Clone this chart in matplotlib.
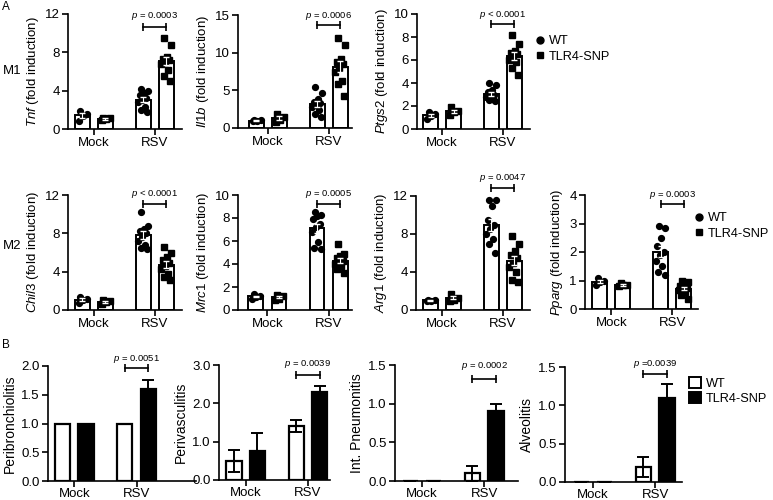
import matplotlib.pyplot as plt
import numpy as np
from matplotlib.lines import Line2D
from matplotlib.patches import Patch

plt.rcParams['font.family'] = ['Liberation Sans', 'DejaVu Sans']
plt.rcParams['mathtext.fontset'] = 'custom'
plt.rcParams['mathtext.rm'] = 'Liberation Sans'
plt.rcParams['mathtext.it'] = 'Liberation Sans:italic'

W, H = 773, 500
groups = ['Mock', 'RSV']

# ---- panel A: fold induction, one value per mouse ----
tnf_mock_wt = [1.9, 1.6, 1.4, 0.8]
tnf_mock_snp = [1.2, 1.1, 1.0, 0.9]
tnf_rsv_wt = [4.2, 4.0, 3.8, 3.5, 3.2, 3.0, 2.8, 2.3, 2.0, 1.8]
tnf_rsv_snp = [9.5, 8.8, 7.5, 7.3, 7.2, 7.0, 6.8, 6.2, 5.5, 5.0]

il1b_mock_wt = [1.1, 1.0, 0.9, 0.9]
il1b_mock_snp = [1.9, 1.5, 1.1, 0.8]
il1b_rsv_wt = [5.5, 4.7, 3.8, 3.5, 3.3, 3.1, 2.8, 2.4, 1.8, 1.5]
il1b_rsv_snp = [12.0, 11.0, 9.2, 8.8, 8.5, 8.0, 7.5, 6.2, 5.8, 4.2]

ptgs2_mock_wt = [1.5, 1.3, 1.1, 0.9]
ptgs2_mock_snp = [1.9, 1.6, 1.5, 1.2]
ptgs2_rsv_wt = [4.0, 3.8, 3.4, 3.2, 3.0, 2.9, 2.8, 2.6, 2.5, 2.4]
ptgs2_rsv_snp = [8.2, 7.4, 6.8, 6.6, 6.5, 6.3, 6.0, 5.8, 5.3, 4.7]

chil3_mock_wt = [1.4, 1.2, 1.0, 0.7]
chil3_mock_snp = [1.0, 0.9, 0.8, 0.6]
chil3_rsv_wt = [10.2, 8.8, 8.5, 8.2, 8.0, 7.6, 7.2, 6.8, 6.5, 6.4]
chil3_rsv_snp = [6.6, 6.0, 5.5, 5.2, 4.9, 4.6, 4.3, 3.8, 3.4, 3.1]

mrc1_mock_wt = [1.4, 1.2, 1.1, 1.0]
mrc1_mock_snp = [1.3, 1.2, 1.0, 0.9]
mrc1_rsv_wt = [8.5, 8.3, 8.2, 7.9, 7.5, 7.2, 6.8, 5.9, 5.4, 5.3]
mrc1_rsv_snp = [5.7, 4.9, 4.7, 4.5, 4.3, 4.2, 4.0, 3.8, 3.6, 3.2]

arg1_mock_wt = [1.1, 1.05, 1.0, 0.9]
arg1_mock_snp = [1.7, 1.3, 1.1, 1.0]
arg1_rsv_wt = [11.6, 11.6, 11.0, 9.5, 9.0, 8.5, 8.0, 7.5, 7.0, 6.0]
arg1_rsv_snp = [7.8, 7.0, 6.2, 5.8, 5.5, 5.0, 4.5, 4.0, 3.2, 3.0]

pparg_mock_wt = [1.1, 0.97, 0.93, 0.85]
pparg_mock_snp = [0.9, 0.85, 0.83, 0.8]
pparg_rsv_wt = [2.9, 2.85, 2.5, 2.2, 2.0, 1.9, 1.7, 1.5, 1.3, 1.2]
pparg_rsv_snp = [1.0, 0.95, 0.85, 0.8, 0.75, 0.7, 0.65, 0.6, 0.5, 0.35]

# ---- panel B: histology scores, mean and error ----
peri_b_wt = [1.0, 1.0]
peri_b_snp = [1.0, 1.6]
peri_b_wt_err = [0.0, 0.0]
peri_b_snp_err = [0.0, 0.16]

peri_v_wt = [0.5, 1.4]
peri_v_snp = [0.75, 2.3]
peri_v_wt_err = [0.28, 0.16]
peri_v_snp_err = [0.48, 0.16]

int_p_wt = [0.0, 0.1]
int_p_snp = [0.0, 0.9]
int_p_wt_err = [0.0, 0.1]
int_p_snp_err = [0.0, 0.1]

alv_wt = [0.0, 0.2]
alv_snp = [0.0, 1.1]
alv_wt_err = [0.0, 0.13]
alv_snp_err = [0.0, 0.18]

GAP = 2.65     # distance between Mock and RSV groups (bar spacing = 1)
BW = 0.65


def px_axes(x0, x1, ytop, ybot):
    return fig.add_axes([x0 / W, 1 - ybot / H, (x1 - x0) / W, (ybot - ytop) / H])


def style(ax, xlim, ylim, yticks, yfmt, pad=2):
    for s in ['top', 'right']:
        ax.spines[s].set_visible(False)
    for s in ['left', 'bottom']:
        ax.spines[s].set_linewidth(1.2)
    ax.set_xlim(xlim)
    ax.set_ylim(ylim)
    ax.set_yticks(yticks)
    ax.set_yticklabels([yfmt.format(t) for t in yticks])
    ax.set_xticks([0.5, GAP + 0.5])
    ax.set_xticklabels(groups)
    ax.tick_params(direction='out', length=4, width=1.2, labelsize=9.5, pad=2)
    ax.tick_params(axis='x', pad=pad)


def bracket(ax, yb, yt, ptxt):
    tr = ax.get_xaxis_transform()
    ax.plot([GAP, GAP + 1], [yb, yb], color='black', lw=1.2, transform=tr,
            marker='|', ms=6, mew=1.2, clip_on=False)
    ax.text(GAP + 0.5, yt, ptxt, transform=tr, ha='center', va='baseline',
            fontsize=6.8)


def jitter(n, spread=0.22):
    k = np.arange(n)
    return spread * (((k * 0.618 + 0.3) % 1.0) - 0.5) * 2


fig = plt.figure(figsize=(W / 100, H / 100), dpi=100)

panels_a = [
    ('Tnf', [tnf_mock_wt, tnf_mock_snp, tnf_rsv_wt, tnf_rsv_snp],
     (68, 182, 14, 129), (-0.63, 4.33), [0, 4, 8, 12], r'$\it{p}$ = 0.0003', 0.887, 0.963),
    ('Il1b', [il1b_mock_wt, il1b_mock_snp, il1b_rsv_wt, il1b_rsv_snp],
     (238, 352, 15, 128), (-0.80, 4.15), [0, 5, 10, 15], r'$\it{p}$ = 0.0006', 0.91, 0.971),
    ('Ptgs2', [ptgs2_mock_wt, ptgs2_mock_snp, ptgs2_rsv_wt, ptgs2_rsv_snp],
     (417, 530, 14, 129), (-0.59, 4.33), [0, 2, 4, 6, 8, 10], r'$\it{p}$ < 0.0001', 0.915, 0.97),
    ('Chil3', [chil3_mock_wt, chil3_mock_snp, chil3_rsv_wt, chil3_rsv_snp],
     (68, 182, 195, 310), (-0.63, 4.33), [0, 4, 8, 12], r'$\it{p}$ < 0.0001', 0.92, 0.99),
    ('Mrc1', [mrc1_mock_wt, mrc1_mock_snp, mrc1_rsv_wt, mrc1_rsv_snp],
     (238, 352, 195, 310), (-0.78, 4.17), [0, 2, 4, 6, 8, 10], r'$\it{p}$ = 0.0005', 0.925, 0.99),
    ('Arg1', [arg1_mock_wt, arg1_mock_snp, arg1_rsv_wt, arg1_rsv_snp],
     (416, 530, 196, 310), (-0.63, 4.33), [0, 4, 8, 12], r'$\it{p}$ = 0.0047', 1.07, 1.14),
    ('Pparg', [pparg_mock_wt, pparg_mock_snp, pparg_rsv_wt, pparg_rsv_snp],
     (585, 698, 195, 309), (-0.65, 4.26), [0, 1, 2, 3, 4], r'$\it{p}$ = 0.0003', 0.925, 0.985),
]

xpos = [0, 1, GAP, GAP + 1]
for gene, sets, rect, xlim, yt, ptxt, yb, ytx in panels_a:
    ax = px_axes(*rect)
    for i, (x, vals) in enumerate(zip(xpos, sets)):
        v = np.array(vals)
        m = v.mean()
        sem = v.std(ddof=1) / np.sqrt(len(v))
        ax.bar(x, m, width=BW, color='white', edgecolor='black', lw=1.4, zorder=1)
        marker = 'o' if i % 2 == 0 else 's'
        ax.plot(x + jitter(len(v)), v, ls='', marker=marker, color='black',
                ms=4.2 if marker == 'o' else 3.8, zorder=3, clip_on=False)
        ax.errorbar(x, m, yerr=sem, color='white', lw=0.8, capsize=2.5, zorder=4)
    style(ax, xlim, (0, yt[-1]), yt, '{:d}')
    ax.set_ylabel(r'$\it{' + gene + '}$ (fold induction)', fontsize=9.5, labelpad=3)
    bracket(ax, yb, ytx, ptxt)

panels_b = [
    ('Peribronchiolitis', peri_b_wt, peri_b_snp, peri_b_wt_err, peri_b_snp_err,
     (48, 196, 366, 481), (-0.62, 5.68), [0, 0.5, 1.0, 1.5, 2.0], r'$\it{p}$ = 0.0051', 0.98, 1.045),
    ('Perivasculitis', peri_v_wt, peri_v_snp, peri_v_wt_err, peri_v_snp_err,
     (219, 330, 365, 480), (-0.64, 4.09), [0, 1.0, 2.0, 3.0], r'$\it{p}$ = 0.0039', 0.914, 0.99),
    ('Int. Pneumonitis', int_p_wt, int_p_snp, int_p_wt_err, int_p_snp_err,
     (395, 518, 365, 481), (-0.65, 4.59), [0, 0.5, 1.0, 1.5], r'$\it{p}$ = 0.0002', 0.88, 0.974),
    ('Alveolitis', alv_wt, alv_snp, alv_wt_err, alv_snp_err,
     (565, 682, 367, 482), (-0.69, 4.29), [0, 0.5, 1.0, 1.5], r'$\it{p}$ =0.0039', 0.937, 1.005),
]

for name, wt, snp, wt_e, snp_e, rect, xlim, yt, ptxt, yb, ytx in panels_b:
    ax = px_axes(*rect)
    xw = np.array([0, GAP])
    ax.bar(xw, wt, width=BW, color='white', edgecolor='black', lw=1.6, zorder=2)
    ax.bar(xw + 1, snp, width=BW, color='black', edgecolor='black', lw=1.6, zorder=2)
    ax.errorbar(xw, wt, yerr=wt_e, fmt='none', ecolor='black', elinewidth=1.4,
                capsize=4.5, capthick=1.4, zorder=3)
    ax.errorbar(xw + 1, snp, yerr=snp_e, fmt='none', ecolor='black', elinewidth=1.4,
                capsize=4.5, capthick=1.4, zorder=1)
    style(ax, xlim, (0, yt[-1]), yt, '{:.1f}', pad=1)
    ax.set_ylabel(name, fontsize=10, labelpad=3)
    bracket(ax, yb, ytx, ptxt)

# legends
pt_handles = [Line2D([], [], ls='', marker='o', color='black', ms=5),
              Line2D([], [], ls='', marker='s', color='black', ms=4.5)]
for lx, ly in [(535, 35), (694, 212)]:
    fig.legend(pt_handles, ['WT', 'TLR4-SNP'], loc='upper left',
               bbox_to_anchor=(lx / W, 1 - ly / H), frameon=False, fontsize=9.2,
               handlelength=0.8, handletextpad=0.3, labelspacing=0.3,
               borderpad=0, borderaxespad=0)

bar_handles = [Patch(facecolor='white', edgecolor='black', lw=1.4),
               Patch(facecolor='black', edgecolor='black', lw=1.4)]
fig.legend(bar_handles, ['WT', 'TLR4-SNP'], loc='upper left',
           bbox_to_anchor=(689 / W, 1 - 377 / H), frameon=False, fontsize=9.2,
           handlelength=0.9, handleheight=0.9, handletextpad=0.4, labelspacing=0.2,
           borderpad=0, borderaxespad=0)

fig.text(2 / W, 1 - 1 / H, 'A', fontsize=8.5, va='top', ha='left')
fig.text(2 / W, 1 - 339 / H, 'B', fontsize=8.5, va='top', ha='left')
fig.text(3 / W, 1 - 71 / H, 'M1', fontsize=9.5, va='center', ha='left')
fig.text(3 / W, 1 - 246 / H, 'M2', fontsize=9.5, va='center', ha='left')

fig.savefig('out.png', dpi=100)
